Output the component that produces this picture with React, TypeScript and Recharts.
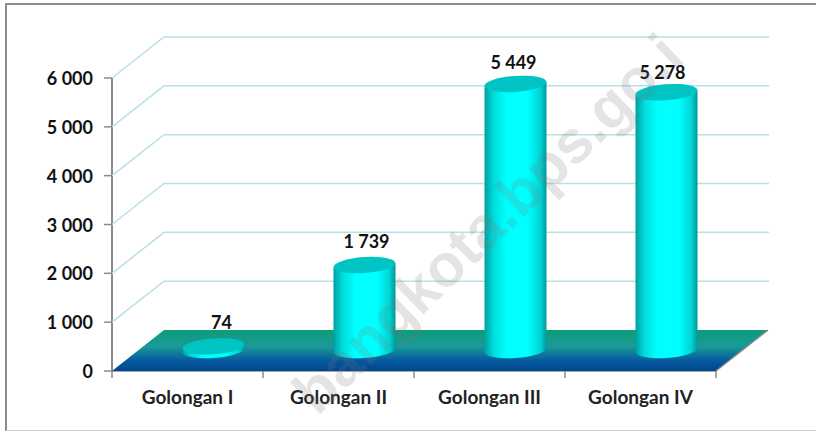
import * as React from "react"
import { Bar, BarChart, XAxis, YAxis } from "recharts"

const categories = ["Golongan I", "Golongan II", "Golongan III", "Golongan IV"]
const seriesValues = [74, 1739, 5449, 5278]
const yTicks = [0, 1000, 2000, 3000, 4000, 5000, 6000]

const tableData = categories.map((name, i) => ({ name, value: seriesValues[i] }))

const WIDTH = 816
const HEIGHT = 431
const PLOT_WIDTH = 604
// how far the back wall sits from the front of the plot
const DEPTH_X = 52
const DEPTH_Y = 41
// the cylinders stand in the middle of the floor
const BAR_DX = 26
const BAR_DY = 20
const RX = 31
const RY = 8
const TILT = -4
const FONT = "Lato, Carlito, sans-serif"
// hand placed labels in the original
const labelNudge = [
  { x: 8, y: 0 },
  { x: 2, y: 0 },
  { x: -2, y: 2 },
  { x: -4, y: 4 },
]

const formatNumber = (n: number) => String(n).replace(/\B(?=(\d{3})+$)/g, " ")

function YTick({ x, y, payload }: any) {
  const left = x + 8
  const isZero = payload.value === 0
  return (
    <g>
      {isZero ? (
        <>
          <polygon
            points={`${left},${y} ${left + PLOT_WIDTH},${y} ${left + PLOT_WIDTH + DEPTH_X},${y - DEPTH_Y} ${left + DEPTH_X},${y - DEPTH_Y}`}
            fill="url(#floorFill)"
          />
          <line
            x1={left + PLOT_WIDTH}
            y1={y}
            x2={left + PLOT_WIDTH + DEPTH_X}
            y2={y - DEPTH_Y}
            stroke="#8a8a8a"
            strokeWidth={1.5}
          />
        </>
      ) : (
        <polyline
          points={`${left},${y} ${left + DEPTH_X},${y - DEPTH_Y} ${left + PLOT_WIDTH + DEPTH_X + 1},${y - DEPTH_Y}`}
          fill="none"
          stroke="#b9dfe9"
          strokeWidth={1.5}
        />
      )}
      <line x1={left - 8} y1={y} x2={left} y2={y} stroke="#8a8a8a" strokeWidth={1.5} />
      <text
        x={left - 19}
        y={y + 7}
        textAnchor="end"
        fontFamily={FONT}
        fontWeight={700}
        fontSize={18}
        fill="#111"
      >
        {formatNumber(payload.value)}
      </text>
    </g>
  )
}

function XTick({ x, y, payload, index }: any) {
  const band = PLOT_WIDTH / categories.length
  const left = x - band / 2
  return (
    <g>
      <line x1={left} y1={y - 8} x2={left} y2={y - 1} stroke="#8a8a8a" strokeWidth={1.5} />
      {index === categories.length - 1 && (
        <line x1={left + band} y1={y - 8} x2={left + band} y2={y - 1} stroke="#8a8a8a" strokeWidth={1.5} />
      )}
      <text
        x={x}
        y={y + 25}
        textAnchor="middle"
        fontFamily={FONT}
        fontWeight={700}
        fontSize={19}
        fill="#222"
      >
        {payload.value}
      </text>
    </g>
  )
}

function Cylinder({ x, y, width, height, index, value }: any) {
  const cx = x + width / 2 + BAR_DX
  const top = y - BAR_DY
  const base = y + height - BAR_DY
  const label = Array.isArray(value) ? value[1] : value
  const nudge = labelNudge[index]
  return (
    <g>
      <path
        d={`M${cx - RX},${top + 1} L${cx - RX},${base + 1} A${RX},${RY} ${TILT} 0 0 ${cx + RX},${base - 3} L${cx + RX},${top - 3} Z`}
        fill="url(#cylinderFill)"
      />
      <ellipse
        cx={cx}
        cy={top - 1}
        rx={RX}
        ry={RY}
        transform={`rotate(${TILT} ${cx} ${top - 1})`}
        fill="#00c3c3"
      />
      <text
        x={cx + nudge.x}
        y={top - 25 + nudge.y + 7}
        textAnchor="middle"
        fontFamily={FONT}
        fontWeight={700}
        fontSize={18}
        fill="#111"
      >
        {formatNumber(label)}
      </text>
    </g>
  )
}

const layer: React.CSSProperties = { position: "absolute", left: 0, top: 0 }

export default function App() {
  return (
    <div style={{ ...layer, width: WIDTH, height: HEIGHT, overflow: "hidden", background: "#fff" }}>
      {/* axes, walls and floor */}
      <div style={layer}>
        <BarChart
          width={WIDTH}
          height={HEIGHT}
          data={tableData}
          margin={{ top: 78, right: 100, bottom: 30, left: 52 }}
          barCategoryGap="0%"
        >
          <defs>
            <linearGradient id="floorFill" x1="0" y1="0" x2="0" y2="1">
              <stop offset="0%" stopColor="#0e9c78" />
              <stop offset="40%" stopColor="#1a9a98" />
              <stop offset="75%" stopColor="#045a9e" />
              <stop offset="100%" stopColor="#024590" />
            </linearGradient>
          </defs>
          <XAxis
            dataKey="name"
            height={30}
            interval={0}
            axisLine={{ stroke: "#8a8a8a", strokeWidth: 1.5 }}
            tickLine={false}
            tick={<XTick />}
          />
          <YAxis
            width={60}
            domain={[0, 6000]}
            ticks={yTicks}
            interval={0}
            axisLine={{ stroke: "#8a8a8a", strokeWidth: 2 }}
            tickLine={false}
            tick={<YTick />}
          />
          {/* invisible, the axis needs a series to build its ticks */}
          <Bar dataKey="value" isAnimationActive={false} fill="none" />
        </BarChart>
      </div>
      {/* recharts paints ticks over the bars, so the cylinders get their own layer */}
      <div style={layer}>
        <BarChart
          width={WIDTH}
          height={HEIGHT}
          data={tableData}
          margin={{ top: 78, right: 100, bottom: 60, left: 112 }}
          barCategoryGap="0%"
        >
          <defs>
            <linearGradient id="cylinderFill" x1="0" y1="0" x2="1" y2="0">
              <stop offset="0%" stopColor="#00a0a0" />
              <stop offset="15%" stopColor="#00dcdc" />
              <stop offset="35%" stopColor="#00ffff" />
              <stop offset="70%" stopColor="#00ffff" />
              <stop offset="90%" stopColor="#00d4d4" />
              <stop offset="100%" stopColor="#009898" />
            </linearGradient>
          </defs>
          <XAxis dataKey="name" hide />
          <YAxis hide domain={[0, 6000]} ticks={yTicks} />
          <Bar dataKey="value" isAnimationActive={false} shape={<Cylinder />} />
        </BarChart>
      </div>
      <div
        style={{
          position: "absolute",
          left: 5,
          top: 3,
          width: 811,
          height: 425,
          borderTop: "2px solid #8c8c8c",
          borderLeft: "2px solid #8c8c8c",
          borderBottom: "1px solid #cfcfcf",
          pointerEvents: "none",
        }}
      />
      <div
        style={{
          position: "absolute",
          left: 488,
          top: 224,
          transform: "translate(-50%, -50%) rotate(-44deg)",
          fontFamily: "'Liberation Sans', sans-serif",
          fontWeight: 700,
          fontSize: 60,
          lineHeight: 1,
          whiteSpace: "nowrap",
          color: "rgba(120,120,120,0.2)",
          pointerEvents: "none",
        }}
      >
        bangkota.bps.go.i
      </div>
    </div>
  )
}
